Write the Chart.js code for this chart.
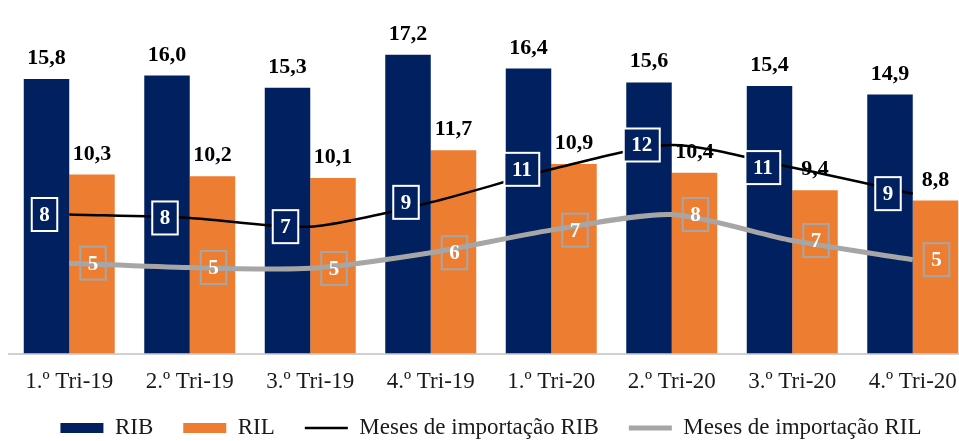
<!DOCTYPE html>
<html><head><meta charset="utf-8">
<script src="https://cdn.jsdelivr.net/npm/chart.js@4/dist/chart.umd.min.js"></script>
<style>html,body{margin:0;padding:0;background:#fff;overflow:hidden;}#wrap{width:973px;height:441px;}</style>
</head><body><div id="wrap"><canvas id="c" width="973" height="441"></canvas></div>
<script>
const categories = ['1.º Tri-19','2.º Tri-19','3.º Tri-19','4.º Tri-19','1.º Tri-20','2.º Tri-20','3.º Tri-20','4.º Tri-20'];
const rib = [15.8,16.0,15.3,17.2,16.4,15.6,15.4,14.9];
const ril = [10.3,10.2,10.1,11.7,10.9,10.4,9.4,8.8];
const mesesRib = [8.0,7.8,7.3,8.7,10.6,12.0,10.7,9.2];
const mesesRil = [5.2,4.95,4.9,5.8,7.1,8.0,6.5,5.4];

const NAVY = '#002060', ORANGE = '#ED7D31', GRAY = '#A6A6A6';
const SERIF = '"Liberation Serif", "Times New Roman", serif';

const labelPlugin = {
  id: 'labels',
  afterLayout(chart) {
    // let the category labels overflow their (short) axis box
    chart.scales.x._computeLabelArea = () => undefined;
  },
  afterDatasetsDraw(chart) {
    const ctx = chart.ctx;
    chart.data.datasets.forEach((ds, di) => {
      const meta = chart.getDatasetMeta(di);
      meta.data.forEach((el, i) => {
        const v = ds.data[i];
        ctx.save();
        if (ds.type === 'bar') {
          ctx.font = 'bold 22px ' + SERIF;
          ctx.fillStyle = '#000';
          ctx.textAlign = 'center';
          ctx.textBaseline = 'alphabetic';
          ctx.fillText(v.toFixed(1).replace('.', ','), el.x, el.y - 15);
        } else {
          const t = String(Math.round(v));
          ctx.font = 'bold 21px ' + SERIF;
          const w = ctx.measureText(t).width + 15, h = 33;
          const left = ds.labelSide === 'left' ? el.x - 12 - w : el.x + 11;
          const top = el.y - h / 2;
          if (ds.labelFill) { ctx.fillStyle = ds.labelFill; ctx.fillRect(left, top, w, h); }
          ctx.strokeStyle = ds.labelBorder;
          ctx.lineWidth = 2;
          ctx.strokeRect(left, top, w, h);
          ctx.fillStyle = '#fff';
          ctx.textAlign = 'center';
          ctx.textBaseline = 'middle';
          ctx.fillText(t, left + w / 2, el.y + 1);
        }
        ctx.restore();
      });
    });
  }
};

new Chart(document.getElementById('c'), {
  data: {
    labels: categories,
    datasets: [
      {type: 'bar', label: 'RIB', data: rib, backgroundColor: NAVY, order: 1},
      {type: 'bar', label: 'RIL', data: ril, backgroundColor: ORANGE, order: 1},
      {type: 'line', label: 'Meses de importação RIB', data: mesesRib, borderColor: '#000', borderWidth: 2.5,
        pointRadius: 0, tension: 0.25, order: 0, labelSide: 'left', labelFill: NAVY, labelBorder: '#fff'},
      {type: 'line', label: 'Meses de importação RIL', data: mesesRil, borderColor: GRAY, borderWidth: 5,
        pointRadius: 0, tension: 0.25, order: 0, labelSide: 'right', labelFill: null, labelBorder: GRAY}
    ]
  },
  options: {
    responsive: false,
    animation: false,
    devicePixelRatio: 1,
    layout: {padding: {left: 9, right: 0, top: 6, bottom: -8.5}},
    datasets: {bar: {categoryPercentage: 0.755, barPercentage: 1.0}},
    scales: {
      x: {
        grid: {display: false},
        border: {display: true, color: '#D0D0D0', width: 2},
        ticks: {font: {family: SERIF, size: 23}, color: '#1a1a1a', padding: 6.5, maxRotation: 0, autoSkip: false},
        afterFit: (s) => { s.height = 33; }
      },
      y: {display: false, min: 0, max: 20}
    },
    plugins: {
      tooltip: {enabled: false},
      legend: {
        position: 'bottom',
        labels: {
          font: {family: SERIF, size: 23},
          color: '#1a1a1a',
          usePointStyle: true,
          pointStyleWidth: 43,
          boxHeight: 10,
          padding: 30,
          generateLabels: (chart) => chart.data.datasets.map((ds, i) => ({
            text: ds.label,
            fillStyle: ds.type === 'line' ? 'rgba(0,0,0,0)' : ds.backgroundColor,
            strokeStyle: ds.type === 'line' ? ds.borderColor : ds.backgroundColor,
            lineWidth: ds.type === 'line' ? ds.borderWidth : 0,
            pointStyle: ds.type === 'line' ? 'line' : 'rect',
            hidden: false,
            datasetIndex: i,
            fontColor: '#1a1a1a'
          }))
        }
      }
    }
  },
  plugins: [labelPlugin]
});
</script>
</body></html>
